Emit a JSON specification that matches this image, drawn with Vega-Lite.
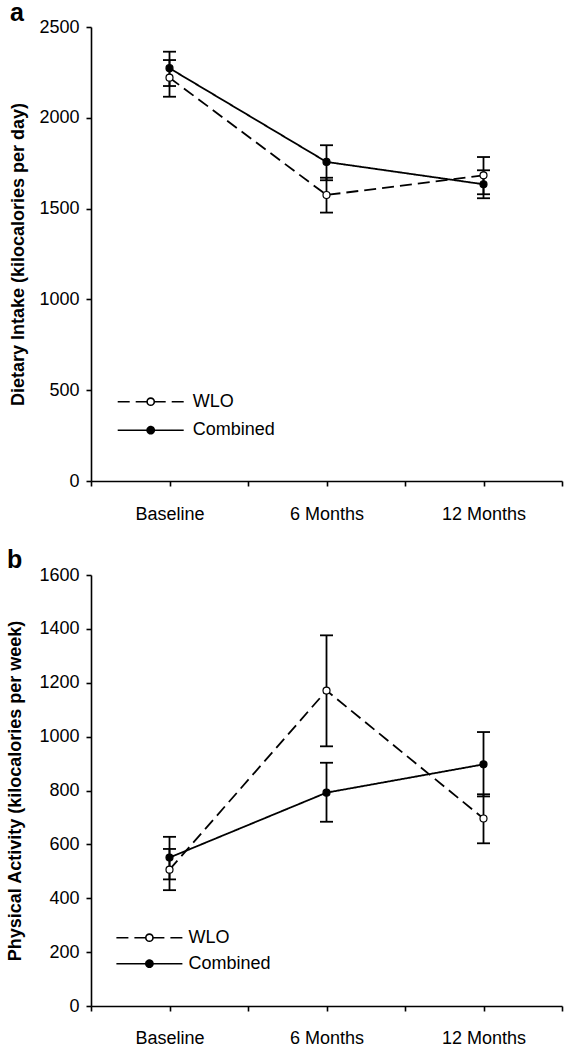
{
  "$schema": "https://vega.github.io/schema/vega-lite/v6.json",
  "padding": {"left": 6, "top": 1, "right": 5, "bottom": 5},
  "config": {
    "font": "Liberation Sans",
    "view": {"stroke": null},
    "axis": {"domainColor": "black", "domainWidth": 1.6, "tickColor": "black", "tickWidth": 1.6, "tickSize": 5, "labelColor": "black", "labelFontSize": 18, "labelFont": "Liberation Sans", "titleFontSize": 18, "titleFontWeight": "bold", "titleFont": "Liberation Sans", "titleColor": "black", "grid": false, "labelFlush": false, "labelOverlap": false, "format": "d"},
    "title": {"font": "Liberation Sans", "fontSize": 25, "fontWeight": "bold", "color": "black", "anchor": "start", "frame": "bounds"}
  },
  "datasets": {
    "intake": [
      {"group": "WLO", "month": 0, "mean": 2221, "lower": 2116, "upper": 2318},
      {"group": "WLO", "month": 6, "mean": 1575, "lower": 1478, "upper": 1670},
      {"group": "WLO", "month": 12, "mean": 1683, "lower": 1579, "upper": 1784},
      {"group": "Combined", "month": 0, "mean": 2273, "lower": 2175, "upper": 2364},
      {"group": "Combined", "month": 6, "mean": 1757, "lower": 1656, "upper": 1849},
      {"group": "Combined", "month": 12, "mean": 1634, "lower": 1557, "upper": 1711}
    ],
    "activity": [
      {"group": "WLO", "month": 0, "mean": 506, "lower": 430, "upper": 583},
      {"group": "WLO", "month": 6, "mean": 1171, "lower": 964, "upper": 1376},
      {"group": "WLO", "month": 12, "mean": 696, "lower": 604, "upper": 786},
      {"group": "Combined", "month": 0, "mean": 551, "lower": 470, "upper": 628},
      {"group": "Combined", "month": 6, "mean": 792, "lower": 684, "upper": 903},
      {"group": "Combined", "month": 12, "mean": 897, "lower": 778, "upper": 1017}
    ]
  },
  "columns": 1,
  "align": "none",
  "spacing": 25,
  "resolve": {
    "scale": {"x": "independent", "y": "independent", "fill": "independent", "strokeDash": "independent"},
    "legend": {"fill": "independent", "strokeDash": "independent"}
  },
  "concat": [
    {
      "title": {"text": "a", "offset": -8},
      "width": 471,
      "height": 454,
      "data": {"name": "intake"},
      "encoding": {
        "x": {
          "field": "month", "type": "quantitative",
          "scale": {"domain": [-3, 15], "nice": false, "zero": false},
          "axis": {"title": null, "values": [-3, 0, 3, 6, 9, 12, 15], "labelPadding": 19,
            "labelExpr": "datum.value == 0 ? 'Baseline' : datum.value == 6 ? '6 Months' : datum.value == 12 ? '12 Months' : ''"}
        }
      },
      "layer": [
        {
          "mark": {"type": "rule", "strokeWidth": 1.8, "color": "black"},
          "encoding": {
            "y": {"field": "lower", "type": "quantitative", "title": "Dietary Intake (kilocalories per day)",
              "scale": {"domain": [0, 2500], "nice": false},
              "axis": {"values": [0, 500, 1000, 1500, 2000, 2500], "labelPadding": 7, "titlePadding": 11}},
            "y2": {"field": "upper"}
          }
        },
        {
          "mark": {"type": "tick", "orient": "horizontal", "size": 13, "thickness": 1.8, "color": "black", "opacity": 1},
          "encoding": {"y": {"field": "lower", "type": "quantitative", "title": "Dietary Intake (kilocalories per day)"}}
        },
        {
          "mark": {"type": "tick", "orient": "horizontal", "size": 13, "thickness": 1.8, "color": "black", "opacity": 1},
          "encoding": {"y": {"field": "upper", "type": "quantitative", "title": "Dietary Intake (kilocalories per day)"}}
        },
        {
          "mark": {"type": "line", "strokeWidth": 1.8, "color": "black"},
          "encoding": {
            "y": {"field": "mean", "type": "quantitative", "title": "Dietary Intake (kilocalories per day)"},
            "strokeDash": {
              "field": "group", "type": "nominal",
              "scale": {"domain": ["WLO", "Combined"], "range": [[12, 6], [1, 0]]},
              "legend": {
                "orient": "none", "legendX": 26.7, "legendY": 365.7, "title": null,
                "symbolType": "M-33,0L33,0M3.6,0A3.6,3.6,0,0,1,-3.6,0M-3.6,0A3.6,3.6,0,0,1,3.6,0",
                "symbolSize": 4, "symbolStrokeWidth": 1.6, "symbolStrokeColor": "black", "symbolOffset": 24, "labelOffset": 33, "rowPadding": 10.5,
                "labelFontSize": 18, "labelFont": "Liberation Sans", "labelColor": "black"
              }
            }
          }
        },
        {
          "mark": {"type": "point", "filled": true, "size": 49, "stroke": "black", "strokeWidth": 1.2, "opacity": 1},
          "encoding": {
            "y": {"field": "mean", "type": "quantitative", "title": "Dietary Intake (kilocalories per day)"},
            "fill": {
              "field": "group", "type": "nominal",
              "scale": {"domain": ["WLO", "Combined"], "range": ["white", "black"]},
              "legend": {
                "orient": "none", "legendX": 26.7, "legendY": 365.7, "title": null,
                "symbolType": "M-33,0L33,0M3.6,0A3.6,3.6,0,0,1,-3.6,0M-3.6,0A3.6,3.6,0,0,1,3.6,0",
                "symbolSize": 4, "symbolStrokeWidth": 1.6, "symbolStrokeColor": "black", "symbolOffset": 24, "labelOffset": 33, "rowPadding": 10.5,
                "labelFontSize": 18, "labelFont": "Liberation Sans", "labelColor": "black"
              }
            }
          }
        }
      ]
    },
    {
      "title": {"text": "b", "offset": -7},
      "width": 471,
      "height": 431,
      "data": {"name": "activity"},
      "encoding": {
        "x": {
          "field": "month", "type": "quantitative",
          "scale": {"domain": [-3, 15], "nice": false, "zero": false},
          "axis": {"title": null, "values": [-3, 0, 3, 6, 9, 12, 15], "labelPadding": 18,
            "labelExpr": "datum.value == 0 ? 'Baseline' : datum.value == 6 ? '6 Months' : datum.value == 12 ? '12 Months' : ''"}
        }
      },
      "layer": [
        {
          "mark": {"type": "rule", "strokeWidth": 1.8, "color": "black"},
          "encoding": {
            "y": {"field": "lower", "type": "quantitative", "title": "Physical Activity (kilocalories per week)",
              "scale": {"domain": [0, 1600], "nice": false},
              "axis": {"values": [0, 200, 400, 600, 800, 1000, 1200, 1400, 1600], "labelPadding": 7, "titlePadding": 14}},
            "y2": {"field": "upper"}
          }
        },
        {
          "mark": {"type": "tick", "orient": "horizontal", "size": 13, "thickness": 1.8, "color": "black", "opacity": 1},
          "encoding": {"y": {"field": "lower", "type": "quantitative", "title": "Physical Activity (kilocalories per week)"}}
        },
        {
          "mark": {"type": "tick", "orient": "horizontal", "size": 13, "thickness": 1.8, "color": "black", "opacity": 1},
          "encoding": {"y": {"field": "upper", "type": "quantitative", "title": "Physical Activity (kilocalories per week)"}}
        },
        {
          "mark": {"type": "line", "strokeWidth": 1.8, "color": "black"},
          "encoding": {
            "y": {"field": "mean", "type": "quantitative", "title": "Physical Activity (kilocalories per week)"},
            "strokeDash": {
              "field": "group", "type": "nominal",
              "scale": {"domain": ["WLO", "Combined"], "range": [[12, 6], [1, 0]]},
              "legend": {
                "orient": "none", "legendX": 26.4, "legendY": 353.7, "title": null,
                "symbolType": "M-33,0L33,0M3.6,0A3.6,3.6,0,0,1,-3.6,0M-3.6,0A3.6,3.6,0,0,1,3.6,0",
                "symbolSize": 4, "symbolStrokeWidth": 1.6, "symbolStrokeColor": "black", "symbolOffset": 23, "labelOffset": 30, "rowPadding": 8,
                "labelFontSize": 18, "labelFont": "Liberation Sans", "labelColor": "black"
              }
            }
          }
        },
        {
          "mark": {"type": "point", "filled": true, "size": 49, "stroke": "black", "strokeWidth": 1.2, "opacity": 1},
          "encoding": {
            "y": {"field": "mean", "type": "quantitative", "title": "Physical Activity (kilocalories per week)"},
            "fill": {
              "field": "group", "type": "nominal",
              "scale": {"domain": ["WLO", "Combined"], "range": ["white", "black"]},
              "legend": {
                "orient": "none", "legendX": 26.4, "legendY": 353.7, "title": null,
                "symbolType": "M-33,0L33,0M3.6,0A3.6,3.6,0,0,1,-3.6,0M-3.6,0A3.6,3.6,0,0,1,3.6,0",
                "symbolSize": 4, "symbolStrokeWidth": 1.6, "symbolStrokeColor": "black", "symbolOffset": 23, "labelOffset": 30, "rowPadding": 8,
                "labelFontSize": 18, "labelFont": "Liberation Sans", "labelColor": "black"
              }
            }
          }
        }
      ]
    }
  ]
}
